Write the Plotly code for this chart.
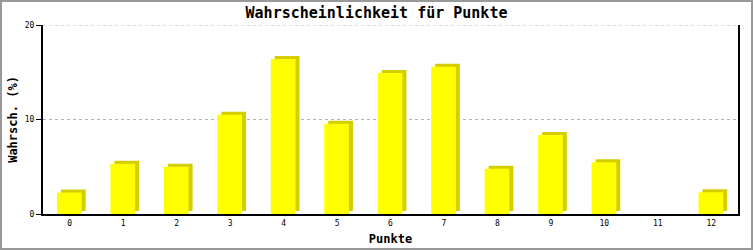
import plotly.graph_objects as go

categories = list(range(13))
tick_labels = [str(c) for c in categories]
values = [2.27, 5.33, 5.01, 10.5, 16.41, 9.55, 14.93, 15.57, 4.80, 8.36, 5.47, 0.0, 2.30]
y_ticks = [0, 10, 20]

W, H = 753, 250
L, R, T, B = 43, 15, 25, 36
plot_w = W - L - R
plot_h = H - T - B
n = len(categories)
px_per_cat = plot_w / n
px_per_unit = plot_h / 20.0
depth_x = 4 / px_per_cat
depth_y = 3 / px_per_unit
bar_w = 0.462
front_off = -0.239

mono = "DejaVu Sans Mono"

fig = go.Figure()
# depth (side/top) faces
fig.add_trace(go.Bar(
    x=categories, y=values, base=depth_y,
    width=bar_w, offset=front_off + depth_x,
    marker=dict(color="#D2CE00", line=dict(width=0)),
    hoverinfo="skip", showlegend=False,
))
# front faces
fig.add_trace(go.Bar(
    x=categories, y=values, base=0,
    width=bar_w, offset=front_off,
    marker=dict(color="#FFFF00", line=dict(width=0)),
    showlegend=False,
))

fig.update_layout(
    width=W, height=H,
    margin=dict(l=L, r=R, t=T, b=B, pad=0, autoexpand=False),
    paper_bgcolor="white", plot_bgcolor="white",
    barmode="overlay",
    title=dict(text="<b>Wahrscheinlichkeit für Punkte</b>",
               font=dict(family=mono, size=15, color="black"),
               x=0.5, xanchor="center", y=1 - 13 / H, yanchor="middle"),
    xaxis=dict(
        range=[-0.5, 12.5], tickvals=categories, ticktext=tick_labels,
        showline=True, linecolor="black", linewidth=2, mirror=False,
        showgrid=False, zeroline=False, ticks="", automargin=False,
        tickfont=dict(family=mono, size=8, color="black"),
        title=dict(text="<b>Punkte</b>", font=dict(family=mono, size=12, color="black"),
                   standoff=8),
        fixedrange=True,
    ),
    yaxis=dict(
        range=[0, 20], tickvals=y_ticks,
        showline=True, linecolor="black", linewidth=2, mirror=True,
        ticks="outside", ticklen=5, tickwidth=1, tickcolor="black",
        showgrid=True, gridcolor="#B4B4B4", griddash="3px,3px", gridwidth=1,
        zeroline=False, automargin=False,
        tickfont=dict(family=mono, size=8, color="black"),
        title=dict(text="<b>Wahrsch. (%)</b>", font=dict(family=mono, size=12, color="black"),
                   standoff=5),
        fixedrange=True,
    ),
    shapes=[
        dict(type="line", xref="paper", yref="y", x0=0, x1=1, y0=y_ticks[-1], y1=y_ticks[-1],
             line=dict(color="#B4B4B4", width=1, dash="3px,3px"), layer="below"),
        dict(type="rect", xref="paper", yref="paper",
             x0=(1 - L) / plot_w, x1=(W - 1 - L) / plot_w,
             y0=-(H - 1 - T - plot_h) / plot_h, y1=1 + (T - 1) / plot_h,
             line=dict(color="#999999", width=2), fillcolor="rgba(0,0,0,0)", layer="above"),
    ],
)

fig.write_html("out.html")
